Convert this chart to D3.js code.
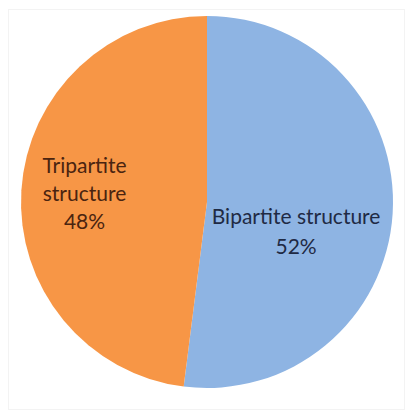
<!DOCTYPE html>
<html><head><meta charset="utf-8">
<script src="https://cdn.jsdelivr.net/npm/d3@7"></script>
<style>html,body{margin:0;padding:0;background:#fff;}svg{display:block;}</style>
</head><body>
<svg id="c" width="410" height="416"></svg>
<script>
const categories = ["Bipartite structure", "Tripartite structure"];
const values = [52, 48];
const labelLines = [["Bipartite structure", "52%"], ["Tripartite", "structure", "48%"]];
const colors = ["#8EB4E3", "#F79646"];
const textColors = ["#1F2A44", "#4A2410"];

const svg = d3.select("#c");
const W = 410, H = 416;
svg.append("rect").attr("x", 8.5).attr("y", 9.5).attr("width", W - 14).attr("height", H - 16)
  .attr("fill", "#fff").attr("stroke", "#f3f3f3");

const cx = 207, cy = 202, r = 186;
const g = svg.append("g").attr("transform", `translate(${cx},${cy})`);
const pie = d3.pie().sort(null).value(d => d)(values);
const arc = d3.arc().innerRadius(0).outerRadius(r);
g.selectAll("path").data(pie).join("path")
  .attr("d", arc).attr("fill", (d, i) => colors[i]);

// label placement: fraction of radius along mid-angle, plus vertical nudge
const labelR = [0.48, 0.66];
const labelDy = [24, 0];
const lineH = [30, 28];
pie.forEach((d, i) => {
  const a = (d.startAngle + d.endAngle) / 2;
  const lr = r * labelR[i];
  const x = Math.sin(a) * lr, y = -Math.cos(a) * lr + labelDy[i];
  const lines = labelLines[i];
  const t = g.append("text").attr("text-anchor", "middle")
    .attr("font-family", "Lato, 'Noto Sans', sans-serif").attr("font-size", 21)
    .attr("fill", textColors[i]);
  lines.forEach((l, k) => {
    t.append("tspan").attr("x", x)
      .attr("y", y + (k - (lines.length - 1) / 2) * lineH[i] + 7).text(l);
  });
});
</script>
</body></html>
